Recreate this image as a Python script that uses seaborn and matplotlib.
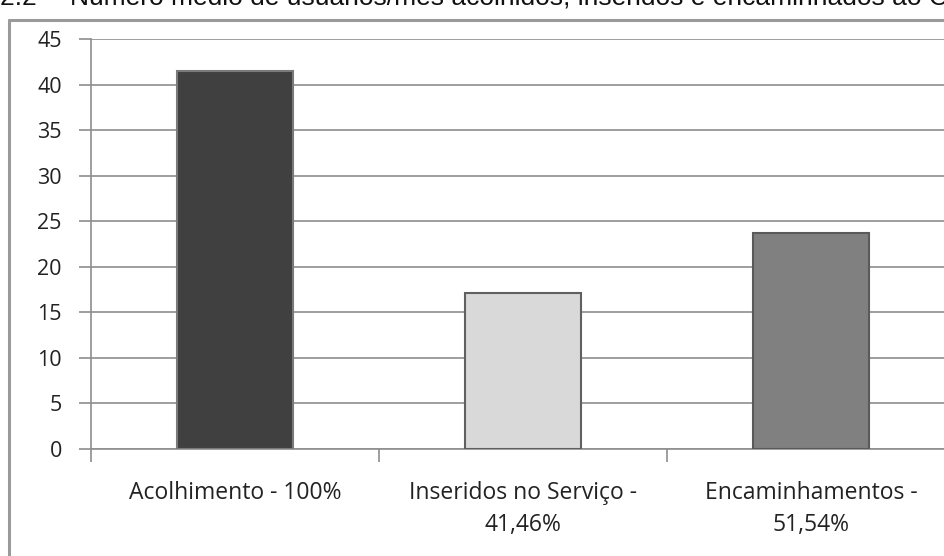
import matplotlib
matplotlib.use("Agg")
import matplotlib.pyplot as plt
import seaborn as sns
import pandas as pd
from matplotlib.lines import Line2D
from matplotlib.ticker import FixedLocator

categories = ["Acolhimento - 100%", "Inseridos no Serviço -\n41,46%", "Encaminhamentos -\n51,54%"]
values = [41.5, 17.1, 23.7]
colors = ["#404040", "#d9d9d9", "#808080"]
edges = ["#7a7a7a", "#606060", "#5a5a5a"]
yticks = [0, 5, 10, 15, 20, 25, 30, 35, 40, 45]
title_num = "2.2 –"
title = "Número médio de usuários/mês acolhidos, inseridos e encaminhados ao CAPS"

sns.set_theme(style="white")
plt.rcParams['font.family'] = ['Open Sans', 'DejaVu Sans']

df = pd.DataFrame({"cat": categories, "val": values})

fig = plt.figure(figsize=(9.44, 5.56), dpi=100)
W, H = 944, 556
x0, x1 = 91, 955
y0, y1 = 449, 39
ax = fig.add_axes([x0 / W, 1 - y0 / H, (x1 - x0) / W, (y0 - y1) / H])

sns.barplot(data=df, x="cat", y="val", hue="cat", palette=colors, width=0.4,
            legend=False, ax=ax, linewidth=1.5, zorder=3)
for p, ec in zip(ax.patches, edges):
    p.set_edgecolor(ec)

ax.set_xlim(-0.5, 2.5)
ax.set_ylim(0, 45)
ax.set_yticks(yticks)
ax.yaxis.grid(True, color="#8e8e8e", linewidth=1.2, zorder=0)
ax.set_axisbelow(True)
for s in ["top", "right"]:
    ax.spines[s].set_visible(False)
for s in ["left", "bottom"]:
    ax.spines[s].set_color("#8e8e8e")
    ax.spines[s].set_linewidth(1.2)
ax.set_xlabel("")
ax.set_ylabel("")
ax.tick_params(axis="y", which="major", length=9, width=1.2, color="#8e8e8e",
               labelsize=15.5, labelcolor="#222222", pad=12, left=True)
ax.tick_params(axis="x", which="major", length=0, labelsize=16.5,
               labelcolor="#222222", pad=23)
for lbl in ax.get_xticklabels():
    lbl.set_linespacing(1.45)
ax.xaxis.set_minor_locator(FixedLocator([-0.5, 0.5, 1.5, 2.5]))
ax.tick_params(axis="x", which="minor", length=9, width=1.2, color="#8e8e8e",
               bottom=True)

# outer frame
fig.add_artist(Line2D([9 / W, 9 / W], [0, 1 - 20 / H], color="#9a9a9a", lw=2.2))
fig.add_artist(Line2D([9 / W, 1], [1 - 20 / H, 1 - 20 / H], color="#9a9a9a", lw=2.2))

fig.text(0 / W, 1 - 5 / H, title_num, fontsize=19, family=["Liberation Sans", "DejaVu Sans"],
         va="baseline", ha="left", color="#111111")
fig.text(70 / W, 1 - 5 / H, title, fontsize=19, family=["Liberation Sans", "DejaVu Sans"],
         va="baseline", ha="left", color="#111111")

fig.savefig("out.png", dpi=100)
